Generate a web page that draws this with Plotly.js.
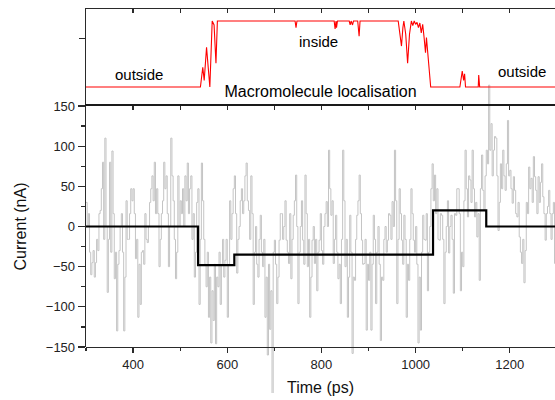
<!DOCTYPE html>
<html>
<head>
<meta charset="utf-8">
<script src="https://cdn.plot.ly/plotly-3.0.1.min.js"></script>
<style>html,body{margin:0;padding:0;background:#fff;}#chart{width:555px;height:400px;}</style>
</head>
<body>
<div id="chart"></div>
<script>
// ---- data ----
const timeStart = 300;   // ps
const timeStep = 2.5;    // ps
const current = [
  30,0, 16,-32, -60,-45, -30,-63, -45,-16, -30,16, 20,47, 80,-16, 110,0, -82,-16,
  80,-32, 94,16, -65,-32, -130,-47, -30,0, 16,-32, -130,-63, 32,-16, -16,16, 47,32,
  47,16, -40,-16, -113,-47, -97,-32, -30,-47, 16,-16, -20,0, 30,47, 63,32, 80,16,
  47,16, -50,-16, 16,32, 80,47, 63,16, -50,0, 110,63, 32,-16, -65,-32, 63,0,
  32,16, 47,0, 63,32, 79,16, 47,63, -16,16, -63,-32, 30,47, -97,-16, 79,32,
  -16,-47, -75,-32, -113,-63, -145,-80, -117,-47, -146,-63, -75,-32, -97,-47, -16,-63, -42,-16,
  -113,-47, 32,-16, 16,47, 63,16, -58,-16, 0,32, 47,16, 32,63, 79,32, 20,-16,
  63,16, -97,-32, 0,-47, -63,-16, 14,-32, -50,-16, -113,-63, -160,-47, -128,-80, -208,-32,
  -17,-47, -96,-63, -17,16, 16,-16, 0,32, -17,-32, -46,16, -65,-16, 14,32, 64,0,
  -96,-32, 0,32, -17,-47, 64,16, -50,-16, -113,-63, -17,0, -46,-16, -80,-32, -17,16,
  -30,-47, 0,16, 31,0, 95,47, 14,32, -46,-16, 14,-32, -65,-47, -96,-16, 95,32,
  -50,-16, -113,-63, 14,-32, -158,-63, -67,-16, 14,32, 64,16, -17,-47, -46,-16, -129,-47,
  -67,-32, -129,-47, 14,-16, -96,-32, 0,-47, -142,-63, -67,-16, 0,-32, -17,16, 14,-16,
  31,0, 95,32, -96,-16, 47,16, -17,-47, 14,-16, -113,-47, -67,-16, 47,16, -17,-32,
  0,-47, -145,-63, -129,-32, 14,-16, -17,16, -80,-32, 0,47, 78,32, 64,16, 47,-16,
  -17,16, 14,-16, -96,-32, 0,32, -33,0, 14,-16, -83,16, 14,47, 47,16, -80,-32,
  -50,32, 95,47, 12,63, 58,30, 95,47, 12,30, -13,16, -67,47, 89,45, 20,63,
  95,78, 176,95, 128,63, 95,112, 110,63, -5,30, 78,47, 95,63, 45,78, 132,63,
  70,47, 29,62, 45,16, 12,30, -13,-32, -46,-16, -70,-30, 30,16, 74,47, 60,30,
  87,62, 45,16, 62,30, 55,78, 37,16, -17,16, 25,45, 16,-16, 16,30, -46,0
];
const time = current.map((_, i) => timeStart + i * timeStep);

const stepTime = [300, 538, 615, 1037, 1150, 1300];
const stepCurrent = [0, -48, -35, 20, 0, 0];

const locTime = [300, 543, 548, 551, 556, 559, 563, 568, 572, 576, 579,
  744, 746, 748, 827, 829, 831, 832, 834, 859, 861, 863, 866, 868, 877, 880, 882,
  963, 967, 970, 973, 975, 979, 983, 987, 991, 994, 997, 1000, 1003, 1006, 1009,
  1012, 1015, 1018, 1021, 1023, 1026, 1032, 1094, 1097, 1099, 1102, 1104, 1106,
  1133, 1134, 1136, 1300];
const locValue = [0, 0, 0.3, 0.1, 0.6, 0.3, 0, 1, 0.94, 0.36, 1,
  1, 0.9, 1, 1, 0.88, 1, 0.9, 1, 1, 0.94, 1, 0.94, 1, 1, 0.77, 1,
  1, 0.8, 0.62, 0.9, 1, 0.8, 0.36, 0.8, 1, 0.93, 1, 0.95, 0.98, 0.9, 0.97,
  0.82, 0.95, 0.75, 0.52, 0.75, 0.5, 0, 0, 0.15, 0.24, 0.1, 0.2, 0,
  0, 0.18, 0, 0];

const labelTexts = ['outside', 'inside', 'outside'];
const titleText = 'Macromolecule localisation';

// ---- layout geometry ----
const W = 555, H = 400;
const M = {l: 86, r: 0, t: 9, b: 7};
const PH = H - M.t - M.b;
const yBot = 347, yMid = 106;
const d0 = (H - M.b - yBot) / PH;
const d1 = (H - M.b - yMid) / PH;
const yRange = [-150, 150];
const pxPerUnit = (d1 - d0) * PH / (yRange[1] - yRange[0]);
const y3Range = [yRange[0] - d0 * PH / pxPerUnit, yRange[1] + (1 - d1) * PH / pxPerUnit];
const xRange = [300, 1296];
const font = 'Liberation Sans, Arial, sans-serif';
const axCol = '#2a2a2a';

const traces = [
  {x: time, y: current, xaxis: 'x', yaxis: 'y3', mode: 'lines',
   line: {color: '#c4c4c4', width: 1, shape: 'hv'}, hoverinfo: 'skip'},
  {x: locTime, y: locValue, xaxis: 'x2', yaxis: 'y2', mode: 'lines',
   line: {color: '#ff0000', width: 1.1}, hoverinfo: 'skip'},
  {x: stepTime, y: stepCurrent, xaxis: 'x3', yaxis: 'y', mode: 'lines',
   line: {color: '#000000', width: 2.2, shape: 'hv'}, hoverinfo: 'skip'}
];

function paperX(px) { return (px - M.l) / (W - M.l - M.r); }
function paperY(py) { return (H - M.b - py) / PH; }

const layout = {
  width: W, height: H, margin: M, showlegend: false,
  paper_bgcolor: '#ffffff', plot_bgcolor: 'rgba(0,0,0,0)',
  font: {family: font, color: '#000'},
  hovermode: false,
  title: {text: titleText, font: {size: 16, color: '#000', family: font},
          x: 0.5, xref: 'paper', xanchor: 'center', y: paperY(91), yref: 'paper', yanchor: 'middle'},
  xaxis: {domain: [0, 1], range: xRange, anchor: 'y', tickmode: 'linear', tick0: 0, dtick: 200,
    ticks: 'outside', ticklen: 5, tickwidth: 1.3, tickcolor: axCol,
    minor: {tickmode: 'linear', tick0: 0, dtick: 100, ticks: 'outside', ticklen: 3, tickwidth: 1.3, tickcolor: axCol},
    showline: true, linecolor: axCol, linewidth: 1.3, showgrid: false, zeroline: false,
    tickfont: {size: 13, color: '#222', family: font}, automargin: false,
    title: {text: 'Time (ps)', font: {size: 16, color: '#111', family: font}, standoff: 11}},
  xaxis3: {overlaying: 'x', side: 'top', anchor: 'y', range: xRange, tickmode: 'linear', tick0: 0, dtick: 100,
    ticks: 'inside', ticklen: 4, tickwidth: 1.3, tickcolor: axCol, showticklabels: false,
    showline: true, linecolor: '#1a1a1a', linewidth: 2, showgrid: false, zeroline: false},
  xaxis2: {domain: [0, 1], anchor: 'y2', side: 'top', range: xRange, tickmode: 'linear', tick0: 0, dtick: 100,
    ticks: 'inside', ticklen: 4, tickwidth: 1.2, tickcolor: axCol, showticklabels: false,
    showline: true, linecolor: axCol, linewidth: 1.2, showgrid: false, zeroline: false},
  yaxis: {domain: [d0, d1], range: yRange, anchor: 'x', tickmode: 'linear', tick0: 0, dtick: 50,
    ticks: 'outside', ticklen: 7, tickwidth: 1.3, tickcolor: axCol,
    minor: {tickmode: 'linear', tick0: 0, dtick: 25, ticks: 'outside', ticklen: 4, tickwidth: 1.3, tickcolor: axCol},
    showline: true, mirror: 'allticks', linecolor: axCol, linewidth: 1.3, showgrid: false, zeroline: false,
    tickfont: {size: 13, color: '#222', family: font}, automargin: false,
    title: {text: 'Current (nA)', font: {size: 16, color: '#111', family: font}, standoff: 15}},
  yaxis2: {domain: [d1, 1], anchor: 'x2', range: [-0.288, 1.182], tickmode: 'array', tickvals: [0.74],
    ticks: 'outside', ticklen: 6, tickwidth: 1.2, tickcolor: axCol, showticklabels: false,
    showline: true, mirror: true, linecolor: axCol, linewidth: 1.2, showgrid: false, zeroline: false},
  yaxis3: {domain: [0, 1], anchor: 'x', range: y3Range, visible: false, showgrid: false, zeroline: false},
  annotations: [
    {text: labelTexts[0], xref: 'paper', yref: 'paper', x: paperX(139), y: paperY(74), xanchor: 'center', yanchor: 'middle', showarrow: false, font: {size: 15, color: '#000', family: font}},
    {text: labelTexts[1], xref: 'paper', yref: 'paper', x: paperX(318), y: paperY(41), xanchor: 'center', yanchor: 'middle', showarrow: false, font: {size: 15, color: '#000', family: font}},
    {text: labelTexts[2], xref: 'paper', yref: 'paper', x: paperX(522), y: paperY(71.5), xanchor: 'center', yanchor: 'middle', showarrow: false, font: {size: 15, color: '#000', family: font}}
  ]
};

Plotly.newPlot('chart', traces, layout, {staticPlot: true, displayModeBar: false});
</script>
</body>
</html>
